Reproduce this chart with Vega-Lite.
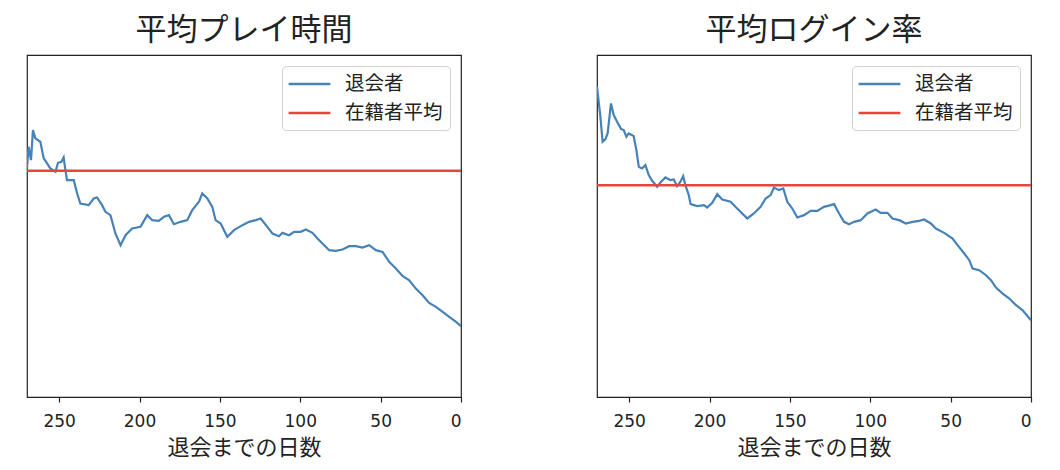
{
  "$schema": "https://vega.github.io/schema/vega-lite/v6.json",
  "background": "white",
  "padding": {"left": 25, "top": 14, "right": 5, "bottom": 5},
  "spacing": 132,
  "config": {
    "view": {"stroke": "#222", "strokeWidth": 1.2},
    "title": {"font": "Noto Sans CJK JP", "fontSize": 31, "fontWeight": "normal", "color": "#222", "offset": 8},
    "axis": {"grid": false},
    "legend": {"orient": "top-right", "offset": 11, "fillColor": "white", "strokeColor": "#d0d0d0", "cornerRadius": 4, "padding": 7, "title": null, "labelFont": "Noto Sans CJK JP", "labelFontSize": 19.5, "labelColor": "#222", "symbolType": "M-1.2,0H3.2", "symbolSize": 361, "symbolStrokeWidth": 2.5, "rowPadding": 8, "labelOffset": 34}
  },
  "datasets": {
    "play": [
      {"d":270,"v":68.5},{"d":269,"v":75},{"d":267.5,"v":71},{"d":266.3,"v":80},{"d":264.8,"v":77.5},{"d":261.7,"v":76.5},{"d":259.6,"v":71.5},{"d":257.5,"v":70},{"d":255.5,"v":68.5},{"d":252.3,"v":67.5},{"d":250.7,"v":70.2},{"d":248.6,"v":70.5},{"d":247.2,"v":71.8},{"d":246.1,"v":68},{"d":245.1,"v":65},{"d":240.9,"v":65},{"d":238.8,"v":61},{"d":236.8,"v":58},{"d":231.6,"v":57.5},{"d":228.5,"v":59.5},{"d":226.4,"v":59.8},{"d":223.3,"v":57.5},{"d":221.2,"v":55.5},{"d":218.1,"v":54.5},{"d":215,"v":49},{"d":211.8,"v":45.5},{"d":208.7,"v":48.5},{"d":204.6,"v":50.5},{"d":199.4,"v":51},{"d":195.2,"v":54.5},{"d":192.1,"v":53},{"d":188,"v":52.8},{"d":184.8,"v":54},{"d":181.7,"v":54.5},{"d":178.6,"v":51.8},{"d":174.5,"v":52.5},{"d":170.3,"v":53},{"d":167.2,"v":56},{"d":163,"v":58.5},{"d":161,"v":61},{"d":157.8,"v":59.5},{"d":154.7,"v":57},{"d":152.7,"v":53},{"d":149.5,"v":52},{"d":145.4,"v":48},{"d":141.2,"v":50},{"d":136,"v":51.5},{"d":131.9,"v":52.5},{"d":127.7,"v":53},{"d":124.6,"v":53.5},{"d":120.5,"v":51},{"d":117.3,"v":49},{"d":113.2,"v":48.2},{"d":111.1,"v":49.2},{"d":107,"v":48.5},{"d":103.8,"v":49.5},{"d":99.7,"v":49.5},{"d":96.6,"v":50.2},{"d":92.4,"v":49.2},{"d":89.3,"v":47.5},{"d":86.2,"v":46},{"d":82,"v":44},{"d":77.9,"v":43.8},{"d":73.7,"v":44.2},{"d":69.6,"v":45.2},{"d":65.4,"v":45.2},{"d":61.3,"v":44.8},{"d":57.1,"v":45.5},{"d":53,"v":44},{"d":48.8,"v":43.5},{"d":44.7,"v":40.5},{"d":40.5,"v":38.5},{"d":36.4,"v":36.3},{"d":32.2,"v":35},{"d":28.1,"v":32.5},{"d":23.9,"v":30.5},{"d":19.8,"v":28.2},{"d":15.6,"v":27},{"d":11.4,"v":25.5},{"d":7.3,"v":24},{"d":3.1,"v":22.5},{"d":0,"v":21.2}
    ],
    "login": [
      {"d":270,"v":93},{"d":267.9,"v":84},{"d":266.5,"v":76.5},{"d":264.8,"v":77.2},{"d":263.4,"v":79},{"d":261.3,"v":88},{"d":259.6,"v":84.5},{"d":257.5,"v":82.5},{"d":255,"v":80.3},{"d":253.4,"v":80},{"d":251.7,"v":78},{"d":250.3,"v":79},{"d":247.2,"v":78.2},{"d":245.5,"v":74},{"d":244,"v":69},{"d":242,"v":68.5},{"d":239.9,"v":69.5},{"d":237.8,"v":66.5},{"d":235.7,"v":64.8},{"d":232.6,"v":63},{"d":230.1,"v":64.5},{"d":227.4,"v":65.8},{"d":224.3,"v":65},{"d":222.2,"v":65.2},{"d":220.2,"v":63.2},{"d":218.1,"v":64.5},{"d":216.4,"v":66.2},{"d":215,"v":63.5},{"d":212.9,"v":60.5},{"d":211.8,"v":57.8},{"d":207.7,"v":57.2},{"d":203.5,"v":57.5},{"d":201.5,"v":56.8},{"d":198.3,"v":58.2},{"d":195.2,"v":60.8},{"d":192.1,"v":59.2},{"d":186.9,"v":58.5},{"d":182.8,"v":56.5},{"d":176.5,"v":53.5},{"d":172.4,"v":55},{"d":168.2,"v":57},{"d":165.1,"v":59.5},{"d":162,"v":60.5},{"d":159.9,"v":62.8},{"d":156.8,"v":62},{"d":154.1,"v":62.5},{"d":151.6,"v":58.5},{"d":148.5,"v":56.5},{"d":145.4,"v":53.8},{"d":141.2,"v":54.5},{"d":137.1,"v":55.8},{"d":132.9,"v":55.8},{"d":128.8,"v":57},{"d":124.6,"v":57.5},{"d":122.5,"v":57.8},{"d":119.4,"v":55},{"d":116.3,"v":52.5},{"d":113.2,"v":51.8},{"d":110.1,"v":52.5},{"d":105.9,"v":53},{"d":101.8,"v":55},{"d":96.6,"v":56.2},{"d":93.5,"v":55.2},{"d":89.3,"v":55.2},{"d":86.2,"v":53.5},{"d":82,"v":53},{"d":77.9,"v":52},{"d":73.7,"v":52.5},{"d":69.6,"v":52.8},{"d":66.5,"v":53.2},{"d":62.3,"v":52},{"d":59.2,"v":50.5},{"d":54,"v":49.2},{"d":48.8,"v":47.5},{"d":45.7,"v":45.5},{"d":41.5,"v":43},{"d":38.4,"v":41},{"d":36.3,"v":38.5},{"d":32.2,"v":38},{"d":28,"v":36.5},{"d":24.9,"v":35},{"d":21.8,"v":32.8},{"d":17.6,"v":31},{"d":13.5,"v":29.5},{"d":9.3,"v":27.5},{"d":5.2,"v":26},{"d":2.1,"v":24.2},{"d":0,"v":23}
    ],
    "play_avg": [{"v":67.8}],
    "login_avg": [{"v":63.5}]
  },
  "hconcat": [
    {
      "title": "平均プレイ時間",
      "width": 434,
      "height": 342,
      "layer": [
        {
          "data": {"name": "play"},
          "mark": {"type": "line", "strokeWidth": 2.2, "clip": true},
          "encoding": {
            "x": {"field": "d", "type": "quantitative", "scale": {"domain": [0, 270], "reverse": true, "nice": false, "zero": false},
              "axis": {"values": [250, 200, 150, 100, 50, 0], "domain": false, "tickColor": "#222", "tickSize": 5, "tickWidth": 1.2, "labelFont": "DejaVu Sans", "labelFontSize": 17, "labelColor": "#222", "labelPadding": 11, "title": "退会までの日数", "titleFont": "Noto Sans CJK JP", "titleFontSize": 22, "titleFontWeight": "normal", "titleColor": "#222", "titlePadding": 8}},
            "y": {"field": "v", "type": "quantitative", "scale": {"domain": [0, 102.5], "nice": false, "zero": false}, "axis": null},
            "color": {"datum": "退会者", "type": "nominal", "scale": {"domain": ["退会者", "在籍者平均"], "range": ["#4682b8", "#e8453f"]}}
          }
        },
        {
          "data": {"name": "play_avg"},
          "mark": {"type": "rule", "strokeWidth": 2.5},
          "encoding": {
            "y": {"field": "v", "type": "quantitative"},
            "color": {"datum": "在籍者平均", "type": "nominal"}
          }
        }
      ]
    },
    {
      "title": "平均ログイン率",
      "width": 434,
      "height": 342,
      "layer": [
        {
          "data": {"name": "login"},
          "mark": {"type": "line", "strokeWidth": 2.2, "clip": true},
          "encoding": {
            "x": {"field": "d", "type": "quantitative", "scale": {"domain": [0, 270], "reverse": true, "nice": false, "zero": false},
              "axis": {"values": [250, 200, 150, 100, 50, 0], "domain": false, "tickColor": "#222", "tickSize": 5, "tickWidth": 1.2, "labelFont": "DejaVu Sans", "labelFontSize": 17, "labelColor": "#222", "labelPadding": 11, "title": "退会までの日数", "titleFont": "Noto Sans CJK JP", "titleFontSize": 22, "titleFontWeight": "normal", "titleColor": "#222", "titlePadding": 8}},
            "y": {"field": "v", "type": "quantitative", "scale": {"domain": [0, 102.5], "nice": false, "zero": false}, "axis": null},
            "color": {"datum": "退会者", "type": "nominal", "scale": {"domain": ["退会者", "在籍者平均"], "range": ["#4682b8", "#e8453f"]}}
          }
        },
        {
          "data": {"name": "login_avg"},
          "mark": {"type": "rule", "strokeWidth": 2.5},
          "encoding": {
            "y": {"field": "v", "type": "quantitative"},
            "color": {"datum": "在籍者平均", "type": "nominal"}
          }
        }
      ]
    }
  ],
  "resolve": {"legend": {"color": "independent"}, "scale": {"color": "independent"}}
}
